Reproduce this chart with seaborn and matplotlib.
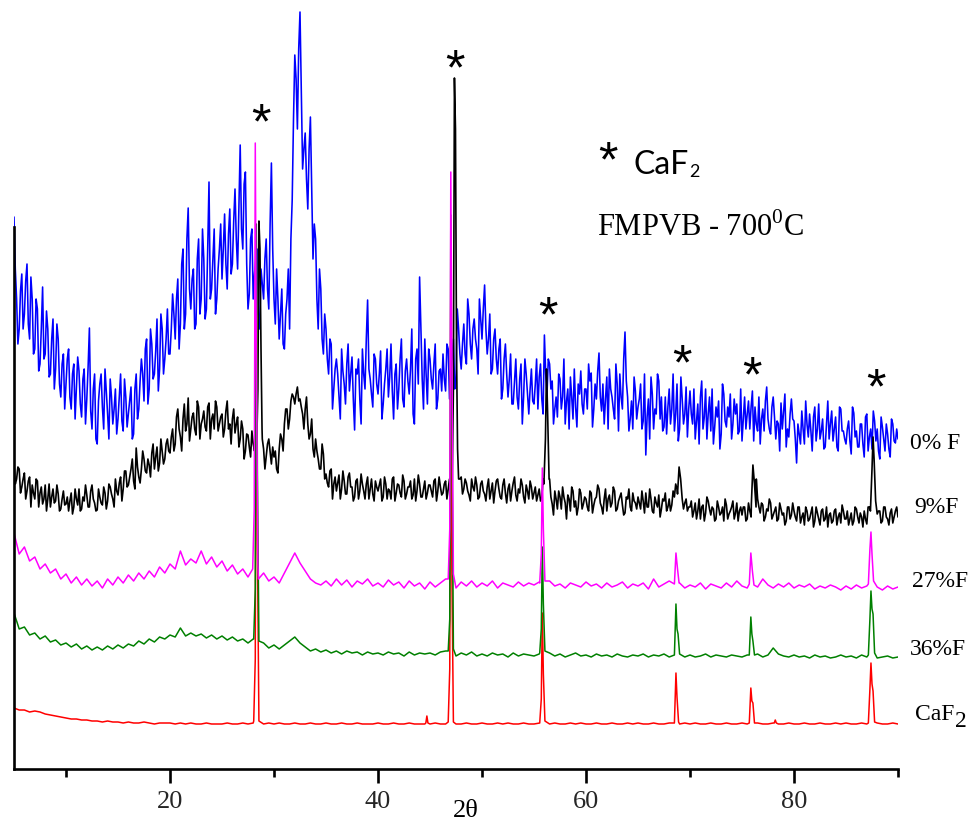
import numpy as np
import pandas as pd
import matplotlib
matplotlib.use("Agg")
import matplotlib.pyplot as plt
import seaborn as sns
from matplotlib.ticker import FixedLocator, MultipleLocator

# ---------------------------------------------------------------
# XRD patterns of FMPVB glass-ceramics heat treated at 700 °C.
# Intensities are in arbitrary units, already offset for stacking.
# ---------------------------------------------------------------
two_theta_fine = np.round(np.arange(5.0, 90.0 + 1e-9, 0.25), 3)     # 5.000 ... 90.000
two_theta_mid = np.round(np.arange(5.125, 90.0, 0.25), 3)           # 5.125 ... 89.875
two_theta_coarse = np.round(np.arange(5.0, 90.0 + 1e-9, 0.5), 3)    # 5.0 ... 90.0

sample_names = ["0% F", "9%F", "27%F", "36%F", "CaF2"]

# 0% F (no fluorine) - noisy amorphous pattern at 5.000, 5.250, ...
f0_counts = [
    552, 470, 440, 495, 455, 505, 430, 470, 420, 460, 405, 482, 415, 440, 395, 450, 400, 430, 372, 415,
    385, 420, 360, 405, 380, 398, 352, 400, 370, 441, 340, 395, 325, 385, 362, 400, 355, 390, 345, 380,
    350, 395, 338, 372, 355, 382, 335, 395, 360, 410, 368, 430, 380, 425, 395, 450, 400, 440, 410, 460,
    415, 475, 430, 490, 445, 520, 455, 561, 460, 500, 445, 530, 470, 510, 460, 587, 480, 540, 470, 520,
    490, 555, 480, 560, 505, 580, 500, 624, 520, 597, 460, 530, 470, 510, 455, 500, 470, 530, 460, 606,
    470, 500, 430, 480, 420, 470, 440, 569, 714, 640, 757, 600, 636, 560, 652, 510, 530, 440, 480, 415,
    440, 395, 425, 380, 410, 372, 420, 385, 405, 378, 412, 339, 395, 370, 420, 380, 469, 390, 362, 410,
    375, 418, 365, 400, 372, 425, 350, 405, 380, 430, 362, 410, 375, 440, 345, 420, 492, 390, 430, 365,
    410, 380, 425, 370, 400, 415, 378, 420, 395, 430, 390, 440, 400, 445, 405, 455, 410, 450, 420, 470,
    430, 484, 415, 455, 400, 440, 395, 430, 380, 425, 372, 415, 365, 410, 360, 405, 372, 395, 355, 400,
    365, 410, 392, 370, 434, 375, 405, 388, 360, 352, 390, 372, 345, 380, 392, 350, 362, 385, 398, 355,
    380, 405, 396, 360, 370, 416, 358, 345, 392, 400, 372, 350, 385, 395, 360, 437, 372, 350, 340, 378,
    362, 385, 348, 314, 370, 392, 340, 355, 388, 372, 342, 335, 380, 360, 338, 385, 340, 370, 355, 332,
    378, 345, 330, 365, 372, 340, 380, 355, 338, 325, 362, 368, 335, 375, 342, 352, 330, 370, 365, 338,
    328, 372, 355, 340, 378, 362, 338, 325, 360, 368, 350, 335, 372, 330, 345, 366, 358, 322, 332, 370,
    348, 306, 335, 358, 325, 345, 355, 318, 362, 340, 330, 350, 322, 368, 345, 328, 352, 318, 360, 338,
    325, 348, 315, 356, 338, 322, 345, 312, 355, 332, 320, 348, 340, 310, 342, 318, 335, 312, 345, 326,
    330,
]
# 0% F - intermediate steps at 5.125, 5.375, ...
f0_counts_mid = [
    500, 425, 478, 440, 488, 445, 492, 415, 470, 398, 440, 410, 458, 392, 430, 380, 445, 385, 405, 360,
    410, 372, 395, 350, 412, 365, 390, 345, 402, 358, 380, 330, 368, 395, 340, 378, 330, 372, 360, 335,
    372, 348, 390, 342, 368, 330, 380, 350, 388, 395, 420, 365, 440, 390, 418, 378, 455, 395, 430, 415,
    440, 455, 470, 420, 505, 440, 530, 480, 490, 440, 510, 455, 540, 450, 520, 470, 510, 455, 500, 545,
    520, 505, 535, 495, 548, 530, 560, 540, 585, 505, 475, 540, 495, 520, 440, 485, 510, 480, 545, 520,
    445, 470, 455, 425, 455, 500, 530, 650, 690, 720, 680, 620, 590, 620, 580, 545, 470, 500, 430, 455,
    410, 430, 360, 400, 395, 350, 398, 365, 425, 395, 370, 400, 410, 345, 395, 430, 400, 375, 415, 385,
    395, 350, 385, 420, 392, 378, 395, 360, 410, 370, 398, 388, 400, 355, 410, 385, 440, 360, 395, 420,
    390, 405, 360, 398, 378, 390, 425, 370, 410, 380, 460, 415, 425, 415, 470, 425, 440, 430, 395, 450,
    460, 440, 430, 395, 430, 410, 420, 370, 410, 395, 390, 365, 388, 372, 390, 345, 410, 375, 380, 368,
    385, 360, 405, 355, 395, 410, 380, 345, 372, 395, 360, 410, 368, 340, 372, 400, 342, 375, 365, 380,
    360, 388, 342, 385, 398, 372, 385, 370, 340, 380, 360, 405, 338, 372, 410, 388, 338, 368, 392, 350,
    370, 340, 395, 352, 330, 375, 360, 395, 350, 338, 372, 362, 345, 395, 355, 328, 392, 345, 382, 360,
    355, 380, 348, 325, 388, 352, 330, 372, 380, 342, 352, 320, 385, 348, 362, 375, 345, 355, 335, 380,
    350, 340, 368, 362, 328, 345, 372, 350, 338, 382, 340, 362, 352, 348, 318, 340, 375, 340, 355, 350,
    330, 345, 325, 340, 368, 332, 338, 352, 328, 365, 338, 320, 345, 330, 358, 340, 322, 362, 338, 330,
    340, 328, 362, 332, 322, 345, 325, 352, 318, 340, 358, 328, 318, 352, 330, 345, 320, 350, 328, 340,
]

# 9% F - background at 5.000, 5.250, ...
f9_counts = [
    305, 290, 300, 282, 296, 278, 292, 284, 270, 288, 276, 265, 284, 270, 262, 280, 268, 275, 260, 278,
    265, 258, 276, 262, 270, 280, 260, 268, 274, 262, 284, 266, 259, 272, 264, 276, 268, 282, 270, 290,
    274, 292, 280, 298, 284, 300, 288, 321, 292, 300, 310, 296, 304, 316, 300, 322, 306, 318, 310, 330,
    316, 340, 325, 360, 332, 350, 338, 371, 340, 356, 334, 362, 345, 358, 338, 366, 350, 340, 362, 345,
    355, 340, 368, 345, 350, 336, 352, 330, 340, 318, 334, 312, 325, 345, 330, 365, 320, 312, 330, 305,
    312, 300, 320, 330, 345, 360, 350, 375, 365, 382, 370, 355, 360, 345, 335, 320, 330, 310, 300, 315,
    295, 282, 300, 285, 278, 294, 280, 288, 275, 296, 282, 272, 290, 278, 285, 270, 292, 280, 275, 288,
    278, 290, 272, 285, 280, 270, 292, 276, 284, 272, 288, 275, 282, 270, 290, 278, 285, 272, 288, 276,
    284, 272, 290, 278, 282, 276, 288, 280, 285, 300, 295, 290, 292, 280, 286, 274, 290, 278, 284, 272,
    288, 275, 282, 270, 286, 278, 290, 272, 284, 276, 280, 268, 286, 274, 280, 290, 272, 284, 270, 282,
    276, 268, 280, 272, 285, 330, 290, 265, 278, 260, 272, 282, 266, 274, 258, 278, 268, 262, 276, 265,
    270, 258, 276, 264, 272, 280, 262, 270, 258, 274, 266, 278, 260, 272, 264, 256, 270, 262, 276, 266,
    272, 260, 268, 276, 262, 270, 256, 266, 274, 260, 268, 258, 270, 264, 272, 280, 290, 275, 266, 258,
    262, 252, 266, 258, 250, 264, 256, 268, 254, 260, 250, 262, 256, 248, 264, 255, 262, 250, 266, 258,
    254, 262, 250, 258, 266, 285, 270, 256, 264, 252, 258, 266, 254, 262, 250, 260, 256, 248, 262, 254,
    258, 248, 262, 252, 244, 258, 250, 262, 248, 256, 244, 260, 250, 242, 256, 248, 260, 252, 246, 258,
    250, 244, 256, 248, 260, 246, 252, 258, 245, 262, 300, 290, 254, 258, 248, 262, 250, 256, 246, 258,
    252,
]
# 9% F - intermediate steps at 5.125, 5.375, ...
f9_counts_mid = [
    285, 302, 276, 290, 270, 288, 262, 276, 290, 262, 282, 270, 258, 285, 272, 266, 284, 258, 270, 264,
    272, 268, 255, 280, 264, 258, 272, 284, 262, 278, 270, 258, 280, 266, 282, 260, 285, 275, 262, 278,
    286, 268, 298, 282, 292, 310, 280, 302, 286, 318, 298, 310, 292, 325, 312, 298, 330, 305, 325, 318,
    332, 318, 352, 340, 318, 365, 345, 328, 352, 340, 368, 330, 350, 342, 362, 330, 355, 368, 338, 352,
    332, 358, 340, 325, 360, 345, 322, 348, 310, 335, 322, 338, 318, 330, 330, 330, 300, 325, 318, 322,
    318, 296, 335, 318, 360, 340, 368, 372, 375, 368, 362, 340, 372, 330, 350, 312, 318, 300, 325, 290,
    286, 298, 270, 292, 286, 270, 298, 275, 292, 282, 268, 288, 270, 295, 278, 285, 270, 290, 268, 282,
    284, 268, 292, 270, 278, 290, 268, 285, 276, 294, 270, 282, 288, 274, 268, 294, 272, 280, 270, 284,
    278, 288, 268, 292, 274, 285, 270, 290, 276, 300, 295, 290, 275, 290, 278, 268, 282, 292, 270, 285,
    278, 268, 290, 278, 266, 288, 280, 270, 290, 266, 285, 278, 292, 268, 276, 284, 266, 278, 288, 270,
    282, 274, 268, 290, 310, 285, 272, 254, 270, 278, 260, 272, 250, 270, 282, 262, 254, 280, 260, 272,
    262, 278, 256, 270, 284, 266, 255, 280, 270, 262, 282, 258, 268, 276, 254, 272, 280, 258, 268, 260,
    266, 278, 256, 262, 280, 258, 272, 262, 252, 270, 276, 262, 258, 278, 285, 290, 280, 260, 270, 262,
    268, 258, 250, 270, 262, 248, 272, 260, 262, 248, 268, 254, 262, 270, 250, 258, 268, 256, 248, 262,
    262, 248, 266, 252, 262, 290, 262, 266, 248, 260, 270, 250, 258, 248, 266, 254, 244, 262, 250, 266,
    252, 262, 246, 256, 262, 248, 256, 242, 262, 250, 258, 248, 262, 254, 246, 258, 244, 256, 264, 250,
    258, 250, 244, 262, 252, 256, 242, 250, 262, 252, 300, 300, 258, 246, 262, 252, 244, 260, 252, 262,
]

# 27% F - background, 0.5 deg steps
f27_counts = [
    236, 215, 222, 208, 212, 200, 205, 196, 200, 190,
    195, 186, 192, 184, 190, 183, 188, 181, 190, 184,
    192, 186, 194, 188, 196, 190, 198, 192, 202, 196,
    205, 200, 218, 204, 210, 206, 218, 205, 212, 202,
    208, 198, 204, 195, 200, 192, 196, 190, 196, 188,
    192, 186, 196, 206, 216, 206, 198, 190, 186, 184,
    188, 183, 190, 184, 189, 182, 188, 185, 190, 183,
    186, 182, 189, 184, 187, 181, 188, 183, 186, 180,
    187, 182, 186, 190, 184, 181, 187, 183, 188, 182,
    186, 183, 188, 181, 186, 184, 182, 187, 183, 186,
    184, 187, 182, 188, 183, 185, 181, 186, 184, 182,
    187, 183, 185, 181, 186, 182, 184, 187, 181, 185,
    183, 186, 180, 190, 182, 185, 188, 183, 186, 181,
    184, 182, 186, 180, 185, 183, 181, 186, 182, 188,
    183, 181, 185, 182, 190, 184, 181, 185, 182, 186,
    181, 184, 182, 185, 180, 183, 181, 184, 182, 179,
    183, 180, 184, 181, 183, 180, 182, 179, 183, 180,
    182,
]

# 36% F - background, 0.5 deg steps
f36_counts = [
    156, 140, 142, 134, 136, 130, 133, 127, 129, 124,
    126, 122, 125, 120, 123, 119, 122, 119, 123, 120,
    124, 121, 125, 123, 128, 125, 130, 127, 132, 130,
    134, 132, 141, 133, 136, 133, 135, 131, 134, 130,
    133, 129, 132, 128, 130, 126, 130, 124, 126, 121,
    124, 120, 124, 128, 132, 126, 122, 118, 120, 117,
    119, 116, 118, 115, 118, 116, 117, 114, 117, 115,
    116, 114, 117, 115, 116, 113, 117, 114, 116, 115,
    116, 114, 117, 118, 115, 113, 116, 114, 117, 113,
    115, 113, 116, 114, 115, 112, 116, 113, 115, 114,
    113, 115, 112, 116, 113, 115, 112, 114, 116, 113,
    114, 112, 115, 113, 114, 112, 115, 113, 112, 114,
    113, 115, 112, 114, 113, 115, 112, 114, 113, 112,
    114, 112, 113, 115, 112, 114, 113, 112, 114, 113,
    112, 114, 113, 115, 112, 114, 121, 115, 113, 112,
    114, 112, 113, 111, 114, 112, 113, 111, 112, 114,
    112, 113, 111, 114, 112, 113, 111, 112, 113, 111,
    112,
]

# pure CaF2 reference - background, 0.5 deg steps
caf2_counts = [
    61, 59, 59, 57, 58, 57, 55, 54, 53, 52,
    51, 50, 50, 49, 49, 48, 48, 47, 48, 47,
    47, 46, 47, 46, 46, 47, 46, 45, 46, 46,
    46, 45, 46, 45, 46, 45, 45, 46, 45, 45,
    45, 46, 45, 45, 46, 45, 46, 45, 45, 46,
    45, 46, 45, 45, 46, 45, 45, 46, 45, 45,
    46, 45, 45, 46, 45, 45, 46, 45, 45, 45,
    46, 45, 45, 46, 45, 45, 46, 45, 45, 45,
    45, 46, 45, 45, 46, 45, 45, 46, 45, 45,
    46, 45, 45, 46, 45, 46, 45, 45, 46, 45,
    45, 46, 45, 45, 46, 45, 45, 46, 45, 46,
    45, 45, 46, 45, 45, 46, 45, 45, 46, 45,
    46, 45, 45, 46, 45, 45, 46, 45, 45, 46,
    45, 46, 45, 45, 46, 45, 45, 46, 45, 45,
    46, 45, 45, 46, 45, 45, 46, 45, 45, 46,
    45, 45, 46, 45, 45, 46, 45, 45, 46, 45,
    46, 45, 45, 46, 45, 45, 46, 45, 45, 46,
    45,
]

# CaF2 reflections: sampled peak profiles (2-theta, counts)
f9_peak_x = [[28.35, 28.45, 28.55, 28.65, 28.75, 28.85],
             [47.15, 47.25, 47.35, 47.45, 47.55, 47.65, 47.75],
             [55.95, 56.1, 56.2, 56.3, 56.45],
             [68.8, 68.95, 69.1, 69.25],
             [75.9, 76.05, 76.2, 76.35],
             [87.35, 87.5, 87.6, 87.7, 87.85, 88.0]]
f9_peak_y = [[330, 380, 548, 520, 420, 340],
             [300, 380, 691, 640, 420, 320, 290],
             [285, 330, 400, 360, 290],
             [275, 302, 290, 270],
             [265, 304, 285, 262],
             [258, 300, 332, 310, 268, 255]]

f27_peak_x = [[27.95, 28.1, 28.2, 28.3, 28.45],
              [46.75, 46.9, 47.0, 47.1, 47.25],
              [55.55, 55.7, 55.8, 55.9, 56.05],
              [68.5, 68.65, 68.8, 68.95],
              [75.7, 75.85, 76.0, 76.15],
              [87.15, 87.3, 87.4, 87.5, 87.65]]
f27_peak_y = [[200, 260, 626, 420, 205],
              [190, 240, 597, 420, 195],
              [186, 215, 301, 240, 188],
              [185, 216, 200, 186],
              [185, 216, 198, 184],
              [185, 220, 237, 215, 188]]

f36_peak_x = [[28.05, 28.2, 28.3, 28.4, 28.55],
              [46.75, 46.9, 47.0, 47.1, 47.25],
              [55.55, 55.7, 55.8, 55.9, 56.05],
              [68.5, 68.65, 68.75, 68.85, 69.0],
              [75.7, 75.85, 75.95, 76.05, 76.2],
              [87.15, 87.3, 87.4, 87.5, 87.6, 87.75]]
f36_peak_y = [[130, 180, 545, 300, 128],
              [118, 150, 554, 360, 120],
              [116, 140, 222, 165, 118],
              [114, 165, 140, 135, 115],
              [114, 152, 135, 128, 114],
              [114, 150, 178, 160, 155, 116]]

caf2_peak_x = [[28.05, 28.2, 28.3, 28.4, 28.55],
               [44.6, 44.7, 44.8],
               [46.75, 46.9, 47.0, 47.1, 47.25],
               [55.55, 55.7, 55.8, 55.9, 56.05],
               [68.5, 68.65, 68.75, 68.9],
               [75.7, 75.85, 75.95, 76.05, 76.2],
               [78.1, 78.2, 78.3],
               [87.15, 87.3, 87.4, 87.5, 87.6, 87.75]]
caf2_peak_y = [[48, 110, 520, 230, 48],
               [46, 53, 46],
               [47, 100, 480, 200, 47],
               [46, 70, 156, 95, 48],
               [46, 96, 72, 47],
               [46, 81, 68, 66, 46],
               [46, 49, 46],
               [46, 80, 106, 85, 78, 47]]

# asterisks marking the CaF2 reflections (2-theta, height)
star_x = [28.75, 47.4, 56.35, 69.2, 76.0, 87.9]
star_y = [657, 711, 464, 416, 404, 392]

# sample labels at the right-hand end of each pattern
label_x = [91.15, 91.6, 91.35, 91.15, 91.6]
label_y = [320, 256, 182, 114, 49]

colors = {"0% F": "#0000FF", "9%F": "#000000", "27%F": "#FF00FF",
          "36%F": "#008000", "CaF2": "#FF0000"}
draw_order = ["0% F", "9%F", "CaF2", "36%F", "27%F"]
line_widths = {"0% F": 1.15, "9%F": 1.2, "27%F": 1.1, "36%F": 1.1, "CaF2": 1.1}


def merge(grid_x, grid_y, peak_x=(), peak_y=()):
    """Sort the scan points and replace the background inside each peak window."""
    x = np.asarray(grid_x, float)
    y = np.asarray(grid_y, float)
    keep = np.ones(len(x), bool)
    for px in peak_x:
        keep &= ~((x >= min(px)) & (x <= max(px)))
    xs = np.concatenate([x[keep]] + [np.asarray(p, float) for p in peak_x])
    ys = np.concatenate([y[keep]] + [np.asarray(p, float) for p in peak_y])
    order = np.argsort(xs)
    return xs[order], ys[order]


fine_x = np.concatenate([two_theta_fine, two_theta_mid])
patterns = {
    "0% F": merge(fine_x, np.concatenate([f0_counts, f0_counts_mid])),
    "9%F": merge(fine_x, np.concatenate([f9_counts, f9_counts_mid]),
                 f9_peak_x, f9_peak_y),
    "27%F": merge(two_theta_coarse, f27_counts, f27_peak_x, f27_peak_y),
    "36%F": merge(two_theta_coarse, f36_counts, f36_peak_x, f36_peak_y),
    "CaF2": merge(two_theta_coarse, caf2_counts, caf2_peak_x, caf2_peak_y),
}

df = pd.concat(
    [pd.DataFrame({"two_theta": x, "intensity": y, "sample": name})
     for name, (x, y) in patterns.items()],
    ignore_index=True,
)

sns.set_theme(style="ticks")
plt.rcParams["font.family"] = ["Liberation Serif", "DejaVu Serif"]
plt.rcParams["mathtext.fontset"] = "custom"
plt.rcParams["mathtext.rm"] = "Liberation Serif"

fig = plt.figure(figsize=(9.71, 8.23), dpi=100)
ax = fig.add_axes([14 / 971, 54 / 823, 884 / 971, 769 / 823])

for name in draw_order:
    sns.lineplot(data=df[df["sample"] == name], x="two_theta", y="intensity",
                 color=colors[name], estimator=None, errorbar=None,
                 legend=False, linewidth=line_widths[name], ax=ax)

ax.set_xlim(5, 90)
ax.set_ylim(0, 769)
ax.set_xlabel("")
ax.set_ylabel("")
ax.set_yticks([])

for side in ("top", "right"):
    ax.spines[side].set_visible(False)
for side in ("left", "bottom"):
    ax.spines[side].set_linewidth(1.9)
    ax.spines[side].set_color("black")
ax.spines["left"].set_bounds(0, 542)

ax.xaxis.set_major_locator(FixedLocator([20, 40, 60, 80]))
ax.xaxis.set_minor_locator(MultipleLocator(10))
ax.tick_params(axis="x", which="major", direction="out", length=10,
               width=1.9, labelsize=19, pad=6, color="black")
ax.tick_params(axis="x", which="minor", direction="out", length=6,
               width=1.9, color="black")

fig.text(466 / 971, 1 - 817 / 823, "2θ", ha="center", va="baseline",
         fontsize=19, color="black")

# asterisks over the CaF2 reflections
star_font = ["Liberation Sans", "DejaVu Sans"]
for sx, sy in zip(star_x, star_y):
    ax.annotate("*", xy=(sx, sy), xytext=(0, -13), textcoords="offset pixels",
                ha="center", va="center", fontsize=36, family=star_font,
                color="black")

# sample labels
for name, lx, ly in zip(sample_names, label_x, label_y):
    if name == "CaF2":
        t = ax.text(lx, ly, "CaF", ha="left", va="baseline", fontsize=17,
                    color="black")
        ax.annotate("2", xy=(1, 0), xycoords=t, xytext=(1, -7),
                    textcoords="offset pixels", ha="left", va="bottom",
                    fontsize=17, color="black")
    else:
        ax.text(lx, ly, name, ha="left", va="baseline", fontsize=17,
                color="black")

# key and sample description
ax.annotate("*", xy=(62.12, 619), xytext=(0, -13), textcoords="offset pixels",
            ha="center", va="center", fontsize=36, family=star_font,
            color="black")
key = ax.text(64.52, 595, "CaF", ha="left", va="baseline", fontsize=23,
              family=["Lato", "DejaVu Sans"], color="black")
ax.annotate("2", xy=(1, 0), xycoords=key, xytext=(1, 0),
            textcoords="offset pixels", ha="left", va="bottom",
            fontsize=13, family=["Lato", "DejaVu Sans"], color="black")
ax.text(61.06, 533, r"FMPVB - 700$^{\mathrm{0}}$C", ha="left",
        va="baseline", fontsize=22, color="black")

fig.savefig("out.png", dpi=100)
